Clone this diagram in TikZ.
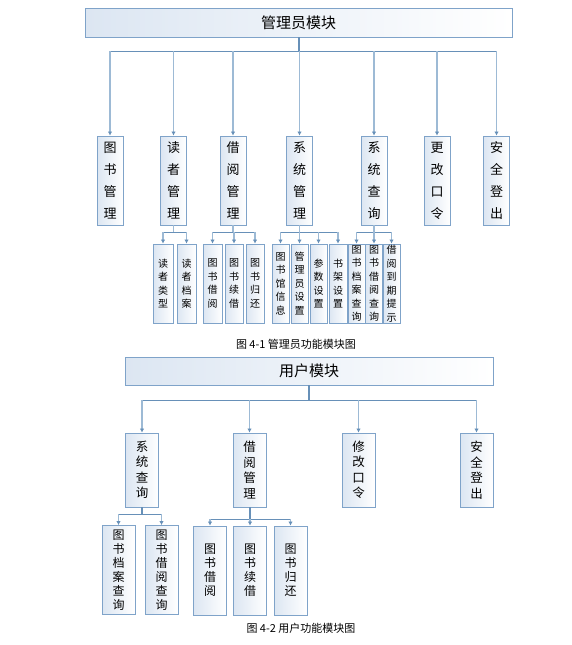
\documentclass[tikz,border=0pt]{standalone}
\usepackage{fontspec}
\newfontfamily\cjk{Noto Sans CJK SC}
\usetikzlibrary{arrows.meta}
\definecolor{bordercol}{HTML}{7FA3C9}
\definecolor{linecol}{HTML}{6790B8}
\definecolor{dropcol}{HTML}{9DBAD5}
\definecolor{shadecol}{HTML}{DCE6F2}
\tikzset{
  mod/.style={draw=bordercol, line width=0.9pt, left color=shadecol, right color=white, inner sep=0pt, align=center},
  banner/.style={mod, font={\cjk\fontsize{15}{18}\selectfont}},
  lvA/.style={mod, minimum width=26pt, minimum height=89pt, font={\cjk\fontsize{13}{22}\selectfont}},
  subA/.style={mod, minimum height=79pt, font={\cjk\fontsize{10}{13.5}\selectfont}},
  lvB/.style={mod, minimum width=33pt, minimum height=74pt, font={\cjk\fontsize{12.5}{15.5}\selectfont}},
  subB/.style={mod, minimum width=33pt, minimum height=89pt, font={\cjk\fontsize{12}{14}\selectfont}},
  conn/.style={draw=linecol, line width=1pt},
  drop/.style={draw=dropcol, line width=1.3pt},
  arr/.style={drop, -{Latex[length=4pt,width=4.5pt,color=linecol]}},
  trunk/.style={draw=linecol, line width=2pt},
  captext/.style={font={\cjk\fontsize{11}{13}\selectfont}, inner sep=0pt}
}
\begin{document}
\begin{tikzpicture}[x=1pt,y=-1pt]
\useasboundingbox (0,0) rectangle (571,645);
% ---------------- Diagram 1 ----------------
\node[banner, minimum width=427pt, minimum height=29pt] (top1) at (298.5,22.5) {管理员模块};
\coordinate (bus1) at (298.5,51);
\node[lvA] (a1) at (110,180.5) {图\\书\\管\\理};
\node[lvA] (a2) at (173.5,180.5) {读\\者\\管\\理};
\node[lvA] (a3) at (233,180.5) {借\\阅\\管\\理};
\node[lvA] (a4) at (299.5,180.5) {系\\统\\管\\理};
\node[lvA] (a5) at (374,180.5) {系\\统\\查\\询};
\node[lvA] (a6) at (437,180.5) {更\\改\\口\\令};
\node[lvA] (a7) at (496.5,180.5) {安\\全\\登\\出};
\draw[trunk] (top1.south) -- (bus1);
\draw[conn] (a1.north |- bus1) -- (a7.north |- bus1);
\foreach \n in {a1,a2,a3,a4,a5,a6,a7} {\draw[arr] (\n.north |- bus1) -- (\n.north);}
% sub level
\node[subA, minimum width=20pt] (b1) at (163,283.5) {读\\者\\类\\型};
\node[subA, minimum width=19pt] (b2) at (186.5,283.5) {读\\者\\档\\案};
\node[subA, minimum width=19pt] (b3) at (212.5,283.5) {图\\书\\借\\阅};
\node[subA, minimum width=18pt] (b4) at (234,283.5) {图\\书\\续\\借};
\node[subA, minimum width=18pt] (b5) at (255,283.5) {图\\书\\归\\还};
\node[subA, minimum width=17pt] (b6) at (280.5,283.5) {图\\书\\馆\\信\\息};
\node[subA, minimum width=17pt] (b7) at (299.5,283.5) {管\\理\\员\\设\\置};
\node[subA, minimum width=17pt] (b8) at (318.5,283.5) {参\\数\\设\\置};
\node[subA, minimum width=18pt] (b9) at (338,283.5) {书\\架\\设\\置};
\node[subA, minimum width=17pt] (b10) at (356.5,283.5) {图\\书\\档\\案\\查\\询};
\node[subA, minimum width=17pt] (b11) at (374,283.5) {图\\书\\借\\阅\\查\\询};
\node[subA, minimum width=17pt] (b12) at (391.5,283.5) {借\\阅\\到\\期\\提\\示};
\coordinate (s2) at (173.5,232);
\coordinate (s3) at (233,232);
\coordinate (s4) at (299.5,232);
\coordinate (s5) at (374,232);
\draw[drop] (a2.south) -- (s2);
\draw[drop] (a3.south) -- (s3);
\draw[drop] (a4.south) -- (s4);
\draw[drop] (a5.south) -- (s5);
\draw[conn] (b1.north |- s2) -- (b2.north |- s2);
\draw[conn] (b3.north |- s3) -- (b5.north |- s3);
\draw[conn] (b6.north |- s4) -- (b9.north |- s4);
\draw[conn] (b10.north |- s5) -- (b12.north |- s5);
\foreach \n/\s in {b1/s2,b2/s2,b3/s3,b4/s3,b5/s3,b6/s4,b7/s4,b8/s4,b9/s4,b10/s5,b11/s5,b12/s5} {\draw[arr] (\n.north |- \s) -- (\n.north);}
\node[captext] (cap1) at (296,344) {图 4-1\ 管理员功能模块图};
% ---------------- Diagram 2 ----------------
\node[banner, minimum width=368pt, minimum height=28pt] (top2) at (309,371) {用户模块};
\coordinate (bus2) at (309,400);
\node[lvB] (c1) at (142,470) {系\\统\\查\\询};
\node[lvB] (c2) at (249.5,470) {借\\阅\\管\\理};
\node[lvB] (c3) at (358.5,470) {修\\改\\口\\令};
\node[lvB] (c4) at (476.5,470) {安\\全\\登\\出};
\draw[trunk] (top2.south) -- (bus2);
\draw[conn] (c1.north |- bus2) -- (c4.north |- bus2);
\foreach \n in {c1,c2,c3,c4} {\draw[arr] (\n.north |- bus2) -- (\n.north);}
\node[subB] (d1) at (118.5,570) {图\\书\\档\\案\\查\\询};
\node[subB] (d2) at (161.5,570) {图\\书\\借\\阅\\查\\询};
\node[subB] (d3) at (210,570.5) {图\\书\\借\\阅};
\node[subB] (d4) at (250,570.5) {图\\书\\续\\借};
\node[subB] (d5) at (290.5,570.5) {图\\书\\归\\还};
\coordinate (t1) at (142,514);
\coordinate (t2) at (249.5,519);
\draw[trunk] (c1.south) -- (t1);
\draw[trunk] (c2.south) -- (t2);
\draw[conn] (d1.north |- t1) -- (d2.north |- t1);
\draw[conn] (d3.north |- t2) -- (d5.north |- t2);
\foreach \n/\s in {d1/t1,d2/t1,d3/t2,d4/t2,d5/t2} {\draw[arr] (\n.north |- \s) -- (\n.north);}
\node[captext] (cap2) at (301,628) {图 4-2\ 用户功能模块图};
\end{tikzpicture}
\end{document}
